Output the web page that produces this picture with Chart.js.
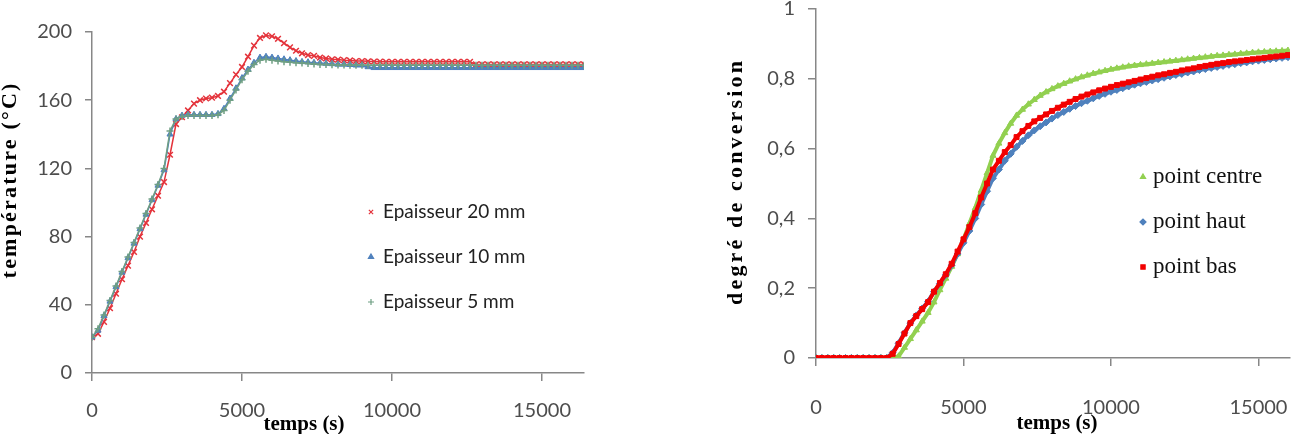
<!DOCTYPE html>
<html>
<head>
<meta charset="utf-8">
<script src="https://cdn.jsdelivr.net/npm/chart.js"></script>
<style>
  html, body { margin: 0; padding: 0; background: #fff; }
  body { width: 1298px; height: 434px; position: relative; overflow: hidden; }
  .box { position: absolute; }
  #left { left: 0; top: 0; width: 640px; height: 434px; }
  #right { left: 640px; top: -14px; width: 658px; height: 448px; }
</style>
</head>
<body>
<div class="box" id="left"><canvas id="tempChart"></canvas></div>
<div class="box" id="right"><canvas id="convChart"></canvas></div>
<script>
// ---- left chart : temperature (°C) vs temps (s)
const tempTimes = [0,200,400,600,800,1000,1200,1400,1600,1800,2000,2200,2400,
  2600,2800,3000,3200,3400,3600,3800,4000,4200,4400,4600,4800,5000,
  5200,5400,5600,5800,6000,6200,6400,6600,6800,7000,7200,7400,7600,
  7800,8000,8200,8400,8600,8800,9000,9200,9400,9600,9800,10000,10200,
  10400,10600,10800,11000,11200,11400,11600,11800,12000,12200,12400,12600,12800,
  13000,13200,13400,13600,13800,14000,14200,14400,14600,14800,15000,15200,15400,
  15600,15800,16000,16200,16400];
const thick20 = [21,23,30,38,46.5,55,63,71,80,88,96,104,112,
  128,146,150,154,158,160,161,161.5,162.5,165,170,175,179.5,
  185.5,192,196.5,198,197.5,196,193.5,191,189,187.5,186.5,186,185,
  184.5,184,183.8,183.5,183.3,183,183,182.8,182.7,182.6,182.5,182.5,182.5,
  182.5,182.5,182.5,182.5,182.5,182.5,182.5,182.5,182.5,182.5,182.5,182.5,181,
  181,181,181,181,181,181,181,181,181,181,181,181,181,
  181,181,181,181,181];
const thick10 = [21,25,33.5,42,50.5,59,67.5,76,84.5,93,101.5,110,119,
  140,149,151,151.5,151.5,151.5,151.5,151.5,152,155,161,167,173,
  178,182,185,185.5,185,184.5,184,183.5,183,182.5,182.3,182,181.8,
  181.5,181.3,181,181,180.8,180.5,180.5,179.5,179,179,179,179,179,
  179,179,179,179,179,179,179,179,179,179,179,179,179,
  179,179,179,179,179,179,179,179,179,179,179,179,179,
  179,179,179,179,179];
const thick5 = [21,26,34,42.5,51,59.5,68,76.5,85,93.5,102,110.5,120,
  142,149,150.5,151,151,151,151,151,151.5,154,160,166,172,
  177,181,183.5,184,183.5,183,182.5,182.3,182,181.8,181.5,181.3,181,
  181,180.8,180.7,180.6,180.5,180.5,180.5,180.5,180.5,180.5,180.5,180.5,180.5,
  180.5,180.5,180.5,180.5,180.5,180.5,180.5,180.5,180.5,180.5,180.5,180.5,180.5,
  180.5,180.5,180.5,180.5,180.5,180.5,180.5,180.5,180.5,180.5,180.5,180.5,180.5,
  180.5,180.5,180.5,180.5,180.5];
const tempXTicks = [0, 5000, 10000, 15000];
const tempYTicks = [0, 40, 80, 120, 160, 200];

// ---- right chart : degré de conversion vs temps (s)
const convTimes = [0,200,400,600,800,1000,1200,1400,1600,1800,2000,2200,2400,
  2600,2800,3000,3200,3400,3600,3800,4000,4200,4400,4600,4800,5000,
  5200,5400,5600,5800,6000,6200,6400,6600,6800,7000,7200,7400,7600,
  7800,8000,8200,8400,8600,8800,9000,9200,9400,9600,9800,10000,10200,
  10400,10600,10800,11000,11200,11400,11600,11800,12000,12200,12400,12600,12800,
  13000,13200,13400,13600,13800,14000,14200,14400,14600,14800,15000,15200,15400,
  15600,15800,16000];
const pointCentre = [0,0,0,0,0,0,0,0,0,0,0,0,0,
  0,0.005,0.03,0.055,0.08,0.105,0.13,0.16,0.195,0.228,0.262,0.298,0.34,
  0.385,0.43,0.48,0.53,0.58,0.615,0.645,0.672,0.695,0.712,0.727,0.74,0.752,
  0.762,0.771,0.779,0.786,0.793,0.799,0.805,0.81,0.815,0.819,0.823,0.827,0.83,
  0.833,0.836,0.838,0.84,0.842,0.844,0.846,0.848,0.85,0.852,0.854,0.856,0.858,
  0.86,0.862,0.864,0.866,0.867,0.869,0.87,0.872,0.873,0.875,0.876,0.877,0.878,
  0.879,0.88,0.881];
const pointHaut = [0,0,0,0,0,0,0,0,0,0,0,0,0,
  0.015,0.042,0.072,0.1,0.122,0.142,0.162,0.19,0.213,0.238,0.266,0.298,0.33,
  0.364,0.4,0.44,0.478,0.515,0.54,0.565,0.585,0.605,0.622,0.638,0.652,0.664,
  0.675,0.686,0.696,0.705,0.714,0.722,0.73,0.737,0.744,0.751,0.757,0.763,0.768,
  0.773,0.778,0.783,0.787,0.791,0.795,0.799,0.803,0.807,0.811,0.814,0.818,0.821,
  0.825,0.828,0.831,0.834,0.837,0.84,0.842,0.845,0.847,0.85,0.852,0.854,0.856,
  0.858,0.86,0.862];
const pointBas = [0,0,0,0,0,0,0,0,0,0,0,0,0,
  0.012,0.04,0.07,0.1,0.12,0.14,0.16,0.19,0.215,0.24,0.27,0.305,0.34,
  0.375,0.415,0.46,0.5,0.54,0.565,0.59,0.61,0.633,0.65,0.665,0.678,0.688,
  0.698,0.708,0.717,0.726,0.734,0.742,0.749,0.755,0.761,0.767,0.772,0.777,0.782,
  0.786,0.79,0.794,0.798,0.802,0.806,0.81,0.813,0.817,0.82,0.824,0.827,0.83,
  0.834,0.837,0.84,0.843,0.845,0.848,0.85,0.852,0.854,0.856,0.858,0.86,0.862,
  0.864,0.866,0.868];
const convXTicks = [0, 5000, 10000, 15000];
const convYTicks = [0, 0.2, 0.4, 0.6, 0.8, 1];

const pairs = (xs, ys) => xs.map((x, i) => ({ x: x, y: ys[i] }));

const tickFont = { family: 'Lato, "Open Sans", sans-serif', size: 20 };
const tickColor = '#4d4d4d';
const axisGrey = '#878787';
const serif = '"Liberation Serif", "DejaVu Serif", serif';

// draws rotated y title (letter spaced), x title and the legend inside the plot
const decor = {
  id: 'decor',
  afterDraw(chart, args, o) {
    const ctx = chart.ctx;
    ctx.save();
    ctx.fillStyle = '#000';

    // y title
    ctx.font = o.yTitle.font;
    ctx.letterSpacing = '0px';
    const w = ctx.measureText(o.yTitle.text).width;
    const ls = (o.yTitle.span - w) / o.yTitle.text.length;
    ctx.letterSpacing = ls + 'px';
    ctx.translate(o.yTitle.x, o.yTitle.y);
    ctx.rotate(-Math.PI / 2);
    ctx.textAlign = 'center';
    ctx.textBaseline = 'middle';
    ctx.fillText(o.yTitle.text, ls / 2, 0);
    ctx.setTransform(1, 0, 0, 1, 0, 0);
    ctx.scale(chart.currentDevicePixelRatio, chart.currentDevicePixelRatio);
    ctx.letterSpacing = '0px';

    // x title
    ctx.font = o.xTitle.font;
    ctx.textAlign = 'center';
    ctx.textBaseline = 'alphabetic';
    ctx.fillText(o.xTitle.text, o.xTitle.x, o.xTitle.y);

    // legend
    ctx.font = o.legend.font;
    ctx.textAlign = 'left';
    ctx.textBaseline = 'middle';
    o.legend.order.forEach((di, k) => {
      const ds = chart.data.datasets[di];
      const y = o.legend.y + k * o.legend.gap;
      ctx.fillStyle = ds.backgroundColor;
      ctx.strokeStyle = ds.borderColor;
      ctx.lineWidth = 1.2;
      Chart.helpers.drawPoint(ctx, { pointStyle: ds.pointStyle, radius: o.legend.r, rotation: 0, borderWidth: 1.2 }, o.legend.mx, y);
      ctx.fillStyle = o.legend.color;
      ctx.fillText(ds.label, o.legend.tx, y);
    });
    ctx.restore();
  }
};

function axis(min, max, tickVals, fmt, len, pad, fit, font) {
  return {
    type: 'linear', min: min, max: max,
    ticks: { padding: pad, font: font || tickFont, color: tickColor, maxRotation: 0, autoSkip: false, callback: fmt },
    grid: { drawOnChartArea: false, tickLength: len, color: axisGrey, lineWidth: 1.5 },
    border: { color: axisGrey, width: 1.5 },
    afterBuildTicks: s => { s.ticks = tickVals.map(v => ({ value: v })); },
    afterFit: fit
  };
}

new Chart(document.getElementById('tempChart'), {
  type: 'scatter',
  data: {
    datasets: [
      { label: 'Epaisseur 20 mm', data: pairs(tempTimes, thick20), borderColor: '#e4333b', backgroundColor: '#e4333b',
        pointStyle: 'crossRot', pointRadius: 4, pointBorderWidth: 1.5, showLine: true, borderWidth: 1.5, order: 3 },
      { label: 'Epaisseur 10 mm', data: pairs(tempTimes, thick10), borderColor: '#4f81bd', backgroundColor: '#4f81bd',
        pointStyle: 'triangle', pointRadius: 3.5, pointBorderWidth: 1, showLine: true, borderWidth: 1.5, order: 2 },
      { label: 'Epaisseur 5 mm', data: pairs(tempTimes, thick5), borderColor: '#6f9f83', backgroundColor: '#6f9f83',
        pointStyle: 'cross', pointRadius: 3.5, pointBorderWidth: 1.5, showLine: true, borderWidth: 1.5, order: 1 }
    ]
  },
  options: {
    responsive: true, maintainAspectRatio: false, animation: false,
    layout: { padding: { top: 32, right: 56, left: 0, bottom: 0 } },
    plugins: {
      legend: { display: false }, tooltip: { enabled: false },
      decor: {
        yTitle: { text: 'température (°C)', x: 10, y: 181, span: 197, font: 'bold 22px ' + serif },
        xTitle: { text: 'temps (s)', x: 304, y: 430, font: 'bold 21px ' + serif },
        legend: { order: [0, 1, 2], mx: 371, tx: 383, y: 212, gap: 45, r: 3, font: '19px Lato, "Open Sans", sans-serif', color: '#222' }
      }
    },
    scales: {
      x: axis(0, 16400, tempXTicks, v => String(v), 8, 18, s => { s.height = 61; }),
      y: axis(0, 200, tempYTicks, v => String(v), 7, 13, s => { s.width = 92; })
    }
  },
  plugins: [decor]
});

new Chart(document.getElementById('convChart'), {
  type: 'scatter',
  data: {
    datasets: [
      { label: 'point centre', data: pairs(convTimes, pointCentre), borderColor: '#92d050', backgroundColor: '#92d050',
        pointStyle: 'triangle', pointRadius: 3.5, pointBorderWidth: 1, showLine: true, borderWidth: 4, order: 3 },
      { label: 'point haut', data: pairs(convTimes, pointHaut), borderColor: '#4f81bd', backgroundColor: '#4f81bd',
        pointStyle: 'rectRot', pointRadius: 3.5, pointBorderWidth: 1, showLine: true, borderWidth: 4, order: 2 },
      { label: 'point bas', data: pairs(convTimes, pointBas), borderColor: '#f20000', backgroundColor: '#f20000',
        pointStyle: 'rect', pointRadius: 3.5, pointBorderWidth: 1, showLine: true, borderWidth: 4, order: 1 }
    ]
  },
  options: {
    responsive: true, maintainAspectRatio: false, animation: false,
    layout: { padding: { top: 0, right: 8, left: 0, bottom: 0 } },
    plugins: {
      legend: { display: false }, tooltip: { enabled: false },
      decor: {
        yTitle: { text: 'degré de conversion', x: 96, y: 197, span: 247, font: 'bold 22px ' + serif },
        xTitle: { text: 'temps (s)', x: 417, y: 443, font: 'bold 21px ' + serif },
        legend: { order: [0, 1, 2], mx: 503, tx: 513, y: 191, gap: 45, r: 3, font: '23px ' + serif, color: '#111' }
      }
    },
    scales: {
      x: axis(0, 16070, convXTicks, v => String(v), 8, 5, s => { s.height = 76; },
        { family: 'Lato, "Open Sans", sans-serif', size: 20, lineHeight: 3.7 }),
      y: axis(0, 1, convYTicks, v => String(v).replace('.', ','), 8, 13, s => { s.width = 176; },
        { family: 'Lato, "Open Sans", sans-serif', size: 20, lineHeight: 1 })
    }
  },
  plugins: [decor]
});
</script>
</body>
</html>
